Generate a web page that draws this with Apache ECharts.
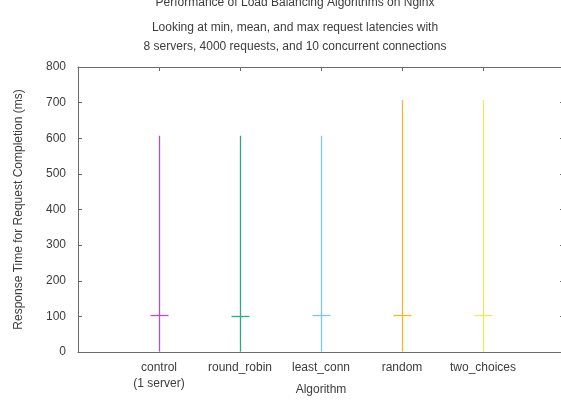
<!DOCTYPE html>
<html>
<head>
<meta charset="utf-8">
<script src="https://cdn.jsdelivr.net/npm/echarts@6/dist/echarts.min.js"></script>
<style>
  html, body { margin: 0; padding: 0; background: #fff; }
  #chart { width: 561px; height: 400px; }
</style>
</head>
<body>
<div id="chart"></div>
<script>
// data (ms)
var categories = ['control\n(1 server)', 'round_robin', 'least_conn', 'random', 'two_choices'];
var minLatency = [1, 1, 1, 1, 1];
var meanLatency = [105, 102, 105, 105, 105];
var maxLatency = [607, 607, 607, 707, 707];
var yTicks = [0, 100, 200, 300, 400, 500, 600, 700, 800];

var palette = ['#b050da', '#30a888', '#80c4ee', '#e8bc30', '#f0e860'];
var axisGrey = '#6a6a6a';
var textGrey = '#3c3c3c';
var fontFamily = 'Liberation Sans, Arial, sans-serif';

// blank slots at both ends so the categories sit at 1..5 of 0..6
var xSlots = [''].concat(categories, ['']);

function renderItem(params, api) {
  var x = api.value(0);
  var lo = api.coord([x, api.value(1)]);
  var mid = api.coord([x, api.value(2)]);
  var hi = api.coord([x, api.value(3)]);
  var color = api.visual('color');
  var cx = Math.round(lo[0]) + 0.5;
  var my = Math.round(mid[1]) + 0.5;
  return {
    type: 'group',
    children: [
      { type: 'line', shape: { x1: cx, y1: lo[1], x2: cx, y2: hi[1] },
        style: { stroke: color, lineWidth: 1.3 } },
      { type: 'line', shape: { x1: cx - 9, y1: my, x2: cx + 9, y2: my },
        style: { stroke: color, lineWidth: 1.3 } }
    ]
  };
}

var seriesData = categories.map(function (c, i) {
  return {
    value: [i + 1, minLatency[i], meanLatency[i], maxLatency[i]],
    itemStyle: { color: palette[i] }
  };
});

var titleStyle = {
  fontFamily: fontFamily,
  fontSize: 12,
  fontWeight: 'normal',
  color: textGrey,
  lineHeight: 19
};

var chart = echarts.init(document.getElementById('chart'));
chart.setOption({
  animation: false,
  backgroundColor: '#fff',
  title: [{
    // first line is partly cut off at the top edge in the original
    text: 'Performance of Load Balancing Algorithms on Nginx',
    left: 290,
    top: -12,
    textAlign: 'center',
    textStyle: titleStyle
  }, {
    text: 'Looking at min, mean, and max request latencies with\n8 servers, 4000 requests, and 10 concurrent connections',
    left: 290,
    top: 13,
    textAlign: 'center',
    textStyle: titleStyle
  }],
  grid: { left: 78, right: -3, top: 67, bottom: 48, containLabel: false, outerBoundsMode: 'none' },
  xAxis: [{
    type: 'category',
    data: xSlots,
    boundaryGap: false,
    position: 'bottom',
    name: 'Algorithm',
    nameLocation: 'middle',
    nameGap: 32,
    nameMoveOverlap: false,
    nameTextStyle: { fontFamily: fontFamily, fontSize: 12, color: textGrey },
    axisLine: { onZero: false, lineStyle: { color: axisGrey, width: 1 } },
    axisTick: { show: false },
    axisLabel: {
      interval: 0,
      margin: 8,
      fontFamily: fontFamily,
      fontSize: 12,
      color: textGrey,
      lineHeight: 16
    },
    splitLine: { show: false }
  }, {
    type: 'category',
    data: xSlots,
    boundaryGap: false,
    position: 'top',
    axisLine: { show: true, onZero: false, lineStyle: { color: axisGrey, width: 1 } },
    axisTick: { show: true, inside: true, length: 4, interval: 0, lineStyle: { color: axisGrey } },
    axisLabel: { show: false },
    splitLine: { show: false }
  }],
  yAxis: [{
    type: 'value',
    min: yTicks[0],
    max: yTicks[yTicks.length - 1],
    interval: 100,
    name: 'Response Time for Request Completion (ms)',
    nameLocation: 'middle',
    nameGap: 53,
    nameTextStyle: { fontFamily: fontFamily, fontSize: 12, color: textGrey },
    axisLine: { show: true, onZero: false, lineStyle: { color: axisGrey, width: 1 } },
    axisTick: { show: true, inside: true, length: 4, lineStyle: { color: axisGrey } },
    axisLabel: {
      margin: 12,
      fontFamily: fontFamily,
      fontSize: 12,
      color: textGrey
    },
    splitLine: { show: false }
  }, {
    type: 'value',
    min: yTicks[0],
    max: yTicks[yTicks.length - 1],
    interval: 100,
    position: 'right',
    axisLine: { show: false, onZero: false },
    axisTick: { show: true, inside: true, length: 4, lineStyle: { color: axisGrey } },
    axisLabel: { show: false },
    splitLine: { show: false }
  }],
  series: [{
    type: 'custom',
    renderItem: renderItem,
    xAxisIndex: 0,
    yAxisIndex: 0,
    encode: { x: 0, y: [1, 2, 3] },
    data: seriesData
  }]
});
</script>
</body>
</html>
